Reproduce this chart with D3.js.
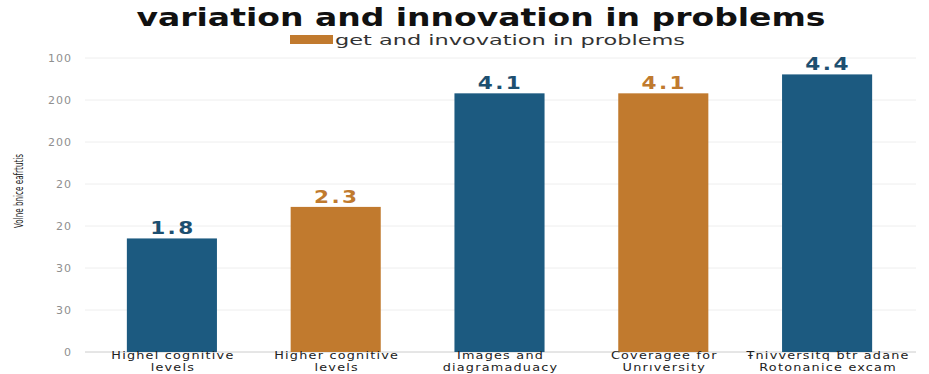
<!DOCTYPE html>
<html>
<head>
<meta charset="utf-8">
<script src="https://cdn.jsdelivr.net/npm/d3@7/dist/d3.min.js"></script>
<style>
  html, body { margin: 0; padding: 0; background: #fff; }
  svg { display: block; }
</style>
</head>
<body>
<svg id="chart" width="929" height="374"></svg>
<script>
// Chart data
const categories = [
  ["Highel cognitive", "levels"],
  ["Higher cognitive", "levels"],
  ["Images and", "diagramaduacy"],
  ["Coveragee for", "Unrıversity"],
  ["Ŧnivversitq ƀtr adane", "Rotonanice excam"]
];
const values = [1.8, 2.3, 4.1, 4.1, 4.4];
const valueLabels = ["1.8", "2.3", "4.1", "4.1", "4.4"];
const seriesKind = ["blue", "orange", "blue", "orange", "blue"];
const tickLabels = ["0", "30", "30", "20", "20", "200", "200", "100"];
const yMax = 4.66;

const colors = { blue: "#1c5a80", orange: "#c17a2e" };
const labelColors = { blue: "#1d4f70", orange: "#c07a2e" };

const svg = d3.select("#chart");
const plotTop = 58, plotBottom = 352;

const x = d3.scaleBand()
  .domain(d3.range(categories.length))
  .range([90, 909])
  .paddingInner(0.45)
  .paddingOuter(0.225);

const y = d3.scaleLinear()
  .domain([0, yMax])
  .range([plotBottom, plotTop]);

const tickVals = d3.range(tickLabels.length).map(i => i * yMax / (tickLabels.length - 1));

// Stretch a text element horizontally to a wider, flatter look
function widen(sel, factor) {
  sel.each(function () {
    const w = this.getComputedTextLength();
    d3.select(this)
      .attr("textLength", w * factor)
      .attr("lengthAdjust", "spacingAndGlyphs");
  });
}

// Gridlines
svg.append("g")
  .selectAll("line")
  .data(tickVals)
  .join("line")
  .attr("x1", 85).attr("x2", 916)
  .attr("y1", d => y(d)).attr("y2", d => y(d))
  .attr("stroke", d => d === 0 ? "#cccccc" : "#eeeeee")
  .attr("stroke-width", 1);

// Y axis tick labels
const yAxis = d3.axisLeft(y)
  .tickValues(tickVals)
  .tickFormat((d, i) => tickLabels[i])
  .tickSize(0)
  .tickPadding(0);
const gy = svg.append("g").attr("transform", "translate(72,0)").call(yAxis);
gy.select(".domain").remove();
gy.selectAll("text")
  .attr("fill", "#8f8f8f")
  .style("font-family", "DejaVu Sans, sans-serif")
  .style("font-size", "11px")
  .style("letter-spacing", "1px")
  .attr("dy", "0.32em");

// Y axis title
svg.append("text")
  .attr("transform", "translate(23,191) rotate(-90)")
  .attr("text-anchor", "middle")
  .attr("fill", "#222")
  .style("font-family", "DejaVu Sans Condensed, Liberation Sans Narrow, sans-serif")
  .style("font-stretch", "condensed")
  .style("font-size", "13px")
  .attr("textLength", 74)
  .attr("lengthAdjust", "spacingAndGlyphs")
  .text("Volne bnice eafrtutis");

// Bars
svg.append("g")
  .selectAll("rect")
  .data(values)
  .join("rect")
  .attr("x", (d, i) => x(i))
  .attr("width", x.bandwidth())
  .attr("y", d => y(d))
  .attr("height", d => plotBottom - y(d))
  .attr("fill", (d, i) => colors[seriesKind[i]]);

// Value labels
svg.append("g")
  .selectAll("text")
  .data(values)
  .join("text")
  .attr("x", (d, i) => x(i) + x.bandwidth() / 2 + 1)
  .attr("y", d => y(d) - 4)
  .attr("text-anchor", "middle")
  .attr("fill", (d, i) => labelColors[seriesKind[i]])
  .style("font-family", "DejaVu Sans, sans-serif")
  .style("font-weight", "bold")
  .style("font-size", "18px")
  .style("letter-spacing", "2px")
  .text((d, i) => valueLabels[i])
  .call(widen, 1.2);

// X axis category labels, two lines each
const lineY = [359, 371];
const xl = svg.append("g");
categories.forEach((lines, i) => {
  lines.forEach((line, j) => {
    xl.append("text")
      .attr("x", x(i) + x.bandwidth() / 2 + 1)
      .attr("y", lineY[j])
      .attr("text-anchor", "middle")
      .attr("fill", "#222")
      .style("font-family", "DejaVu Sans, sans-serif")
      .style("font-size", "10.5px")
      .style("letter-spacing", "1px")
      .text(line)
      .call(widen, 1.22);
  });
});

// Title
svg.append("text")
  .attr("x", 481)
  .attr("y", 26)
  .attr("text-anchor", "middle")
  .attr("fill", "#111")
  .style("font-family", "DejaVu Sans, sans-serif")
  .style("font-weight", "bold")
  .style("font-size", "24px")
  .attr("textLength", 689)
  .attr("lengthAdjust", "spacingAndGlyphs")
  .text("variation and innovation in problems");

// Legend
const legend = svg.append("g");
legend.append("rect")
  .attr("x", 290).attr("y", 35)
  .attr("width", 43).attr("height", 9)
  .attr("fill", colors.orange);
legend.append("text")
  .attr("x", 335).attr("y", 45)
  .attr("fill", "#333")
  .style("font-family", "DejaVu Sans, sans-serif")
  .style("font-size", "13.5px")
  .attr("textLength", 350)
  .attr("lengthAdjust", "spacingAndGlyphs")
  .text("get and invovation in problems");
</script>
</body>
</html>
